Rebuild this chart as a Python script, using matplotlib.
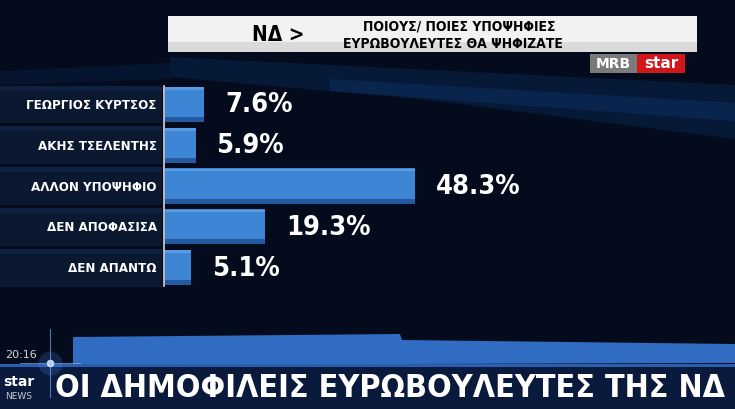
import matplotlib
matplotlib.use('Agg')
import matplotlib.pyplot as plt
from matplotlib import font_manager
from matplotlib.patches import Rectangle, Polygon

# data
categories = ['ΓΕΩΡΓΙΟΣ ΚΥΡΤΣΟΣ', 'ΑΚΗΣ ΤΣΕΛΕΝΤΗΣ', 'ΑΛΛΟΝ ΥΠΟΨΗΦΙΟ', 'ΔΕΝ ΑΠΟΦΑΣΙΣΑ', 'ΔΕΝ ΑΠΑΝΤΩ']
values = [7.6, 5.9, 48.3, 19.3, 5.1]
header_left = 'ΝΔ >'
header_lines = ['ΠΟΙΟΥΣ/ ΠΟΙΕΣ ΥΠΟΨΗΦΙΕΣ', 'ΕΥΡΩΒΟΥΛΕΥΤΕΣ ΘΑ ΨΗΦΙΖΑΤΕ']
ticker = 'ΟΙ ΔΗΜΟΦΙΛΕΙΣ ΕΥΡΩΒΟΥΛΕΥΤΕΣ ΤΗΣ ΝΔ'
clock = '20:16'

W, H = 735, 410
BG = '#030b1c'
BAR = '#3d86d6'
BAR_DARK = '#2559a0'
FONT = 'DejaVu Sans'

# use a condensed cut if one is installed
cond = font_manager.findfont(font_manager.FontProperties(family=FONT, weight='bold',
                                                           stretch='condensed'))
STRETCH = 'condensed' if 'Condensed' in cond else 'normal'


def fit(txt, width):
    # shrink a text until it is no wider than width pixels
    fig.canvas.draw()
    w = txt.get_window_extent().width
    if w > width:
        txt.set_fontsize(txt.get_fontsize() * width / w)


fig = plt.figure(figsize=(W / 100, H / 100), dpi=100, facecolor=BG)

# background layer in pixel coordinates
bg = fig.add_axes([0, 0, 1, 1], zorder=0)
bg.set_xlim(0, W)
bg.set_ylim(H, 0)
bg.axis('off')
bg.set_facecolor(BG)

# soft blue streaks
bg.add_patch(Polygon([(170, 58), (735, 86), (735, 140), (420, 100), (170, 78)],
                     closed=True, color='#0f3a78', alpha=0.3, lw=0))
bg.add_patch(Polygon([(330, 80), (735, 104), (735, 122), (330, 92)],
                     closed=True, color='#1d5aa8', alpha=0.2, lw=0))
bg.add_patch(Polygon([(0, 72), (170, 64), (170, 80), (0, 86)],
                     closed=True, color='#0c2c5c', alpha=0.3, lw=0))

# header box
bg.add_patch(Rectangle((168, 17), 529, 36, color='#f2f2f2', lw=0))
bg.add_patch(Rectangle((168, 43), 529, 10, color='#dadada', lw=0))
t = bg.text(252, 35, header_left, fontsize=15, fontweight='bold', color='black',
            ha='left', va='center', family=FONT, fontstretch=STRETCH)
fit(t, 54)
t = bg.text(459, 27, header_lines[0], fontsize=10, fontweight='bold', color='black',
            ha='center', va='center', family=FONT, fontstretch=STRETCH)
fit(t, 228)
t = bg.text(453, 44, header_lines[1], fontsize=10, fontweight='bold', color='black',
            ha='center', va='center', family=FONT, fontstretch=STRETCH)
fit(t, 256)

# MRB / star logo
bg.add_patch(Rectangle((590, 55), 47, 19, color='#7a7a7a', lw=0))
bg.add_patch(Rectangle((637, 55), 48, 19, color='#d0161b', lw=0))
bg.text(613, 64.5, 'MRB', fontsize=10, fontweight='bold', color='white',
        ha='center', va='center', family=FONT)
bg.text(661, 64, 'star', fontsize=11, fontweight='bold', color='white',
        ha='center', va='center', family=FONT)

# label panels
row_top, row_h = 85, 40.8
for i in range(len(categories)):
    y0 = row_top + i * row_h
    bg.add_patch(Rectangle((0, y0 + 1.5), 162, row_h - 3, color='#0a1830', lw=0))
    bg.add_patch(Rectangle((0, y0 + 1.5), 162, 5, color='#0f2140', lw=0))
bg.plot([164, 164], [row_top + 2, row_top + 5 * row_h - 2], color='#d9d9d9', lw=1.2)

# bottom bands
bg.add_patch(Polygon([(73, 338), (400, 335), (402, 341), (735, 345), (735, 364), (73, 366)],
                     closed=True, color='#2f6cc2', lw=0))
bg.add_patch(Rectangle((0, 367), W, 43, color='#0a1a3c', lw=0))
bg.add_patch(Rectangle((0, 365), W, 2.5, color='#2a5fb0', lw=0))
bg.scatter([50], [364], s=300, color='#4a8cff', alpha=0.2, lw=0)
bg.scatter([50], [364], s=30, color='#e0ecff', alpha=0.9, lw=0)
bg.plot([50, 50], [330, 398], color='#8fbaff', lw=0.8, alpha=0.6)
bg.plot([20, 80], [364, 364], color='#8fbaff', lw=0.8, alpha=0.6)
bg.text(5, 355, clock, fontsize=8, color='#d8d8d8', ha='left', va='center', family=FONT)
bg.text(19, 382, 'star', fontsize=10, fontweight='bold', color='white',
        ha='center', va='center', family=FONT)
bg.text(19, 397, 'NEWS', fontsize=6.5, color='#c8c8c8', ha='center', va='center',
        family=FONT)

t = bg.text(55, 389, ticker, fontsize=26, fontweight='bold', color='white', ha='left',
            va='center', family=FONT, fontstretch=STRETCH)
fit(t, 670)

# bars
ax = fig.add_axes([165 / W, (H - (row_top + 5 * row_h)) / H, (W - 165) / W, 5 * row_h / H],
                  zorder=2)
ax.patch.set_alpha(0)
ax.set_xlim(0, (W - 165) / 5.18)
ax.set_ylim(len(categories) - 0.5, -0.5)
ypos = list(range(len(categories)))
ax.barh(ypos, values, height=0.86, color=BAR, lw=0)
ax.barh([y + 0.37 for y in ypos], values, height=0.12, color=BAR_DARK, lw=0)
ax.barh([y - 0.39 for y in ypos], values, height=0.06, color='#5a9be2', lw=0)
for y, v, name in zip(ypos, values, categories):
    ax.annotate(f'{v}%', (v, y), xytext=(15, 0), textcoords='offset points',
                ha='left', va='center', fontsize=19.5, fontweight='bold', color='white',
                family=FONT, fontstretch=STRETCH)
    t = ax.annotate(name, (0, y), xytext=(-6, 0), textcoords='offset points',
                    ha='right', va='center', fontsize=9.5, fontweight='bold', color='white',
                    family=FONT, fontstretch=STRETCH, annotation_clip=False)
    fit(t, 132)
ax.axis('off')

fig.savefig('out.png', dpi=100, facecolor=BG)
